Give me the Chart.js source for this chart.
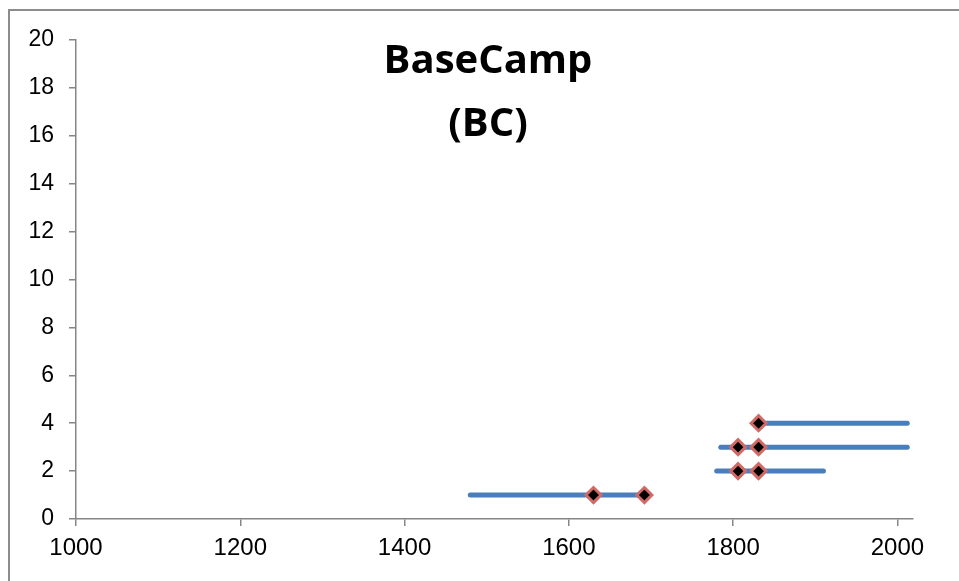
<!DOCTYPE html>
<html>
<head>
<meta charset="utf-8">
<script src="https://cdn.jsdelivr.net/npm/chart.js@4/dist/chart.umd.min.js"></script>
<style>
  html, body { margin: 0; padding: 0; background: #fff; overflow: hidden; }
  #wrap { position: relative; width: 959px; height: 581px; }
</style>
</head>
<body>
<div id="wrap"><canvas id="chart" width="959" height="581"></canvas></div>
<script>
// horizontal ranges (start / end on x, level on y)
const rangeLevel = [1, 2, 3, 4];
const rangeStart = [1480, 1780, 1785, 1831];
const rangeEnd   = [1692, 1910, 2012, 2012];

// diamond markers
const markerX = [1630, 1692, 1806, 1831, 1806, 1831, 1831];
const markerY = [1, 1, 2, 2, 3, 3, 4];

const xTicks = [1000, 1200, 1400, 1600, 1800, 2000];
const titleLines = ['BaseCamp', '(BC)'];

const axisGray = '#868686';

const datasets = [];
// markers first so they sit on top of the lines
datasets.push({
  type: 'scatter',
  data: markerX.map((x, i) => ({ x: x, y: markerY[i] })),
  pointStyle: 'rectRot',
  pointRadius: 7.5,
  pointBackgroundColor: '#000',
  pointBorderColor: '#d06a67',
  pointBorderWidth: 3,
  showLine: false,
  order: 0
});
rangeLevel.forEach((lvl, i) => {
  datasets.push({
    type: 'line',
    data: [{ x: rangeStart[i], y: lvl }, { x: rangeEnd[i], y: lvl }],
    borderColor: '#4a7ebb',
    borderWidth: 5,
    borderCapStyle: 'round',
    pointRadius: 0,
    fill: false,
    order: 1
  });
});

// title drawn inside the plot area + outer frame
const decor = {
  id: 'decor',
  afterDraw(c) {
    const ctx = c.ctx;
    ctx.save();
    ctx.strokeStyle = '#8c8c8c';
    ctx.lineWidth = 2;
    ctx.strokeRect(9, 10, 1000, 1000);
    ctx.fillStyle = '#000';
    ctx.font = 'bold 40px "Open Sans"';
    ctx.textAlign = 'center';
    ctx.textBaseline = 'middle';
    ctx.fillText(titleLines[0], 488, 62);
    ctx.fillText(titleLines[1], 488, 125);
    ctx.restore();
  }
};

new Chart(document.getElementById('chart'), {
  data: { datasets: datasets },
  options: {
    responsive: false,
    animation: false,
    events: [],
    layout: { padding: { left: 0, top: 40, right: 46, bottom: 0 } },
    plugins: { legend: { display: false }, tooltip: { enabled: false }, title: { display: false } },
    scales: {
      x: {
        type: 'linear',
        min: 1000,
        max: 2019,
        afterBuildTicks: (s) => { s.ticks = xTicks.map(v => ({ value: v })); },
        afterFit: (s) => { s.height = 62; },
        ticks: {
          font: { family: 'Liberation Sans', size: 24 },
          color: '#000',
          padding: 8,
          maxRotation: 0,
          callback: (v) => String(v)
        },
        grid: { drawOnChartArea: false, tickLength: 7, color: axisGray, lineWidth: 1.5 },
        border: { color: axisGray, width: 1.5 }
      },
      y: {
        type: 'linear',
        min: 0,
        max: 20,
        afterFit: (s) => { s.width = 76; },
        ticks: {
          stepSize: 2,
          font: { family: 'Liberation Sans', size: 23 },
          color: '#000',
          padding: 15,
          callback: (v) => String(v)
        },
        grid: { drawOnChartArea: false, tickLength: 7, color: axisGray, lineWidth: 1.5 },
        border: { color: axisGray, width: 1.5 }
      }
    }
  },
  plugins: [decor]
});
</script>
</body>
</html>
